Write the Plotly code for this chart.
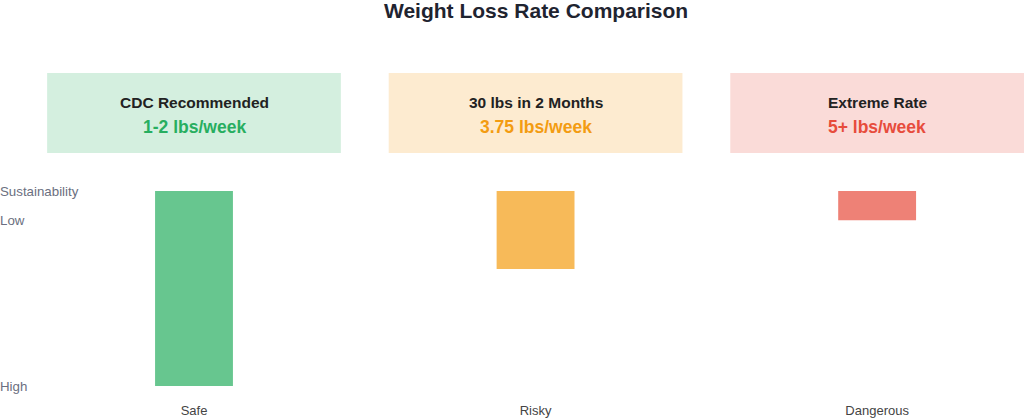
import plotly.graph_objects as go

# ---- data ----
categories = ["Safe", "Risky", "Dangerous"]
sustainability = [100, 40, 15]          # bar depth (0 = top)
box_headers = ["CDC Recommended", "30 lbs in 2 Months", "Extreme Rate"]
box_values = ["1-2 lbs/week", "3.75 lbs/week", "5+ lbs/week"]
base_colors = ["#27ae60", "#f39c12", "#e74c3c"]
ytick_vals = [0, 15, 100]
ytick_text = ["Sustainability", "Low", "High"]

W, H = 1024, 418
FONT = "Liberation Sans, Arial, sans-serif"

def rgba(hex_color, a):
    h = hex_color.lstrip("#")
    r, g, b = int(h[0:2], 16), int(h[2:4], 16), int(h[4:6], 16)
    return f"rgba({r},{g},{b},{a})"

fig = go.Figure()
fig.add_trace(go.Bar(
    x=list(range(len(categories))),
    y=sustainability,
    base=0,
    width=0.228,
    marker=dict(color=[rgba(c, 0.7) for c in base_colors], line=dict(width=0)),
    hoverinfo="skip",
))

def py(pixel_y):
    return 1 - pixel_y / H

shapes = []
annotations = []
for i, (hd, val, col) in enumerate(zip(box_headers, box_values, base_colors)):
    shapes.append(dict(type="rect", xref="x", yref="paper",
                       x0=i - 0.43, x1=i + 0.43, y0=py(153), y1=py(73),
                       fillcolor=rgba(col, 0.2), line=dict(width=0), layer="below"))
    annotations.append(dict(x=i, y=py(102), xref="x", yref="paper", text=f"<b>{hd}</b>",
                            showarrow=False, xanchor="center", yanchor="middle",
                            font=dict(family=FONT, size=15.5, color="#222222")))
    annotations.append(dict(x=i, y=py(127), xref="x", yref="paper", text=f"<b>{val}</b>",
                            showarrow=False, xanchor="center", yanchor="middle",
                            font=dict(family=FONT, size=17.5, color=col)))

annotations.append(dict(x=1, y=py(11), xref="x", yref="paper",
                        text="<b>Weight Loss Rate Comparison</b>", showarrow=False,
                        xanchor="center", yanchor="middle",
                        font=dict(family=FONT, size=21, color="#1f2430")))

fig.update_layout(
    width=W, height=H,
    margin=dict(l=0, r=0, t=0, b=0, autoexpand=False),
    paper_bgcolor="white", plot_bgcolor="white",
    showlegend=False,
    shapes=shapes,
    annotations=annotations,
    xaxis=dict(
        range=[-0.568, 2.430],
        tickmode="array", tickvals=list(range(len(categories))), ticktext=categories,
        showgrid=False, zeroline=False, showline=False,
        ticks="outside", ticklen=12, tickcolor="rgba(0,0,0,0)",
        tickfont=dict(family=FONT, size=13, color="#444444"),
        automargin=False, fixedrange=True,
    ),
    yaxis=dict(
        domain=[py(386), py(191)],
        range=[100, 0],
        tickmode="array", tickvals=ytick_vals, ticktext=ytick_text,
        ticklabelposition="inside", ticklabeloverflow="allow",
        ticklabelstandoff=-3,
        ticks="", showgrid=False, zeroline=False, showline=False,
        tickfont=dict(family=FONT, size=13.3, color="#6b6f80"),
        automargin=False, fixedrange=True,
    ),
)

fig.write_html("out.html", config={"displayModeBar": False},
               post_script="document.body.style.margin='0';document.body.style.overflow='hidden';")
